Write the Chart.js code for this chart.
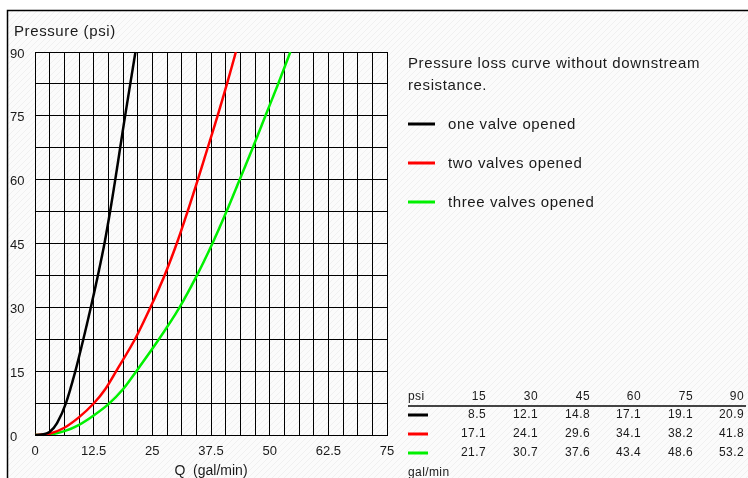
<!DOCTYPE html>
<html>
<head>
<meta charset="utf-8">
<script src="https://cdn.jsdelivr.net/npm/chart.js@4.4.0/dist/chart.umd.min.js"></script>
<style>
  html, body { margin: 0; padding: 0; background: #fff; }
  #chart { display: block; }
</style>
</head>
<body>
<canvas id="chart" width="748" height="478"></canvas>
<script>
// curve points: Q in gal/min, P in psi
const oneValveQ = [0, 1.5, 3.1, 4.7, 6.6, 8.6, 10.3, 11.9, 13.4, 14.8, 16.0, 17.1, 18.15, 19.2, 20.3, 21.4];
const oneValveP = [0, 0.1, 0.7, 2.8, 7.5, 15, 22.5, 30, 37.5, 45, 52.5, 60, 67.5, 75, 82.5, 90];
const twoValvesQ = [0, 3.1, 6.25, 9.4, 12.5, 15.0, 17.3, 21.3, 24.6, 27.6, 30.2, 32.5, 34.7, 36.8, 38.9, 40.9, 42.8];
const twoValvesP = [0, 0.3, 1.7, 4.2, 7.4, 10.8, 15, 22.5, 30, 37.5, 45, 52.5, 60, 67.5, 75, 82.5, 90];
const threeValvesQ = [0, 3.1, 6.25, 9.4, 12.5, 15.6, 18.8, 21.6, 26.4, 30.8, 34.5, 37.8, 40.8, 43.6, 46.4, 49.1, 51.8, 54.4];
const threeValvesP = [0, 0.1, 0.9, 2.4, 4.6, 7.2, 10.8, 15, 22.5, 30, 37.5, 45, 52.5, 60, 67.5, 75, 82.5, 90];

const seriesNames = ['one valve opened', 'two valves opened', 'three valves opened'];
const seriesColors = ['#000000', '#ff0000', '#00f000'];

// table under the legend: flow (gal/min) at each pressure
const tablePsi = [15, 30, 45, 60, 75, 90];
const tableOne = ['8.5', '12.1', '14.8', '17.1', '19.1', '20.9'];
const tableTwo = ['17.1', '24.1', '29.6', '34.1', '38.2', '41.8'];
const tableThree = ['21.7', '30.7', '37.6', '43.4', '48.6', '53.2'];

const chartTitle = ['Pressure loss curve without downstream', 'resistance.'];
const yTitle = 'Pressure (psi)';
const xTitle = 'Q  (gal/min)';

const textColor = '#1a1a1a';
const font = 'Liberation Sans, Arial, sans-serif';

const toPoints = (qs, ps) => qs.map((q, i) => ({ x: q, y: ps[i] }));

const isMultiple = (v, step) => Math.abs(v / step - Math.round(v / step)) < 1e-6;

// frame, hatched background, and the texts on the right
const decorations = {
  id: 'decorations',
  beforeDraw(chart) {
    const ctx = chart.ctx;
    const w = chart.width, h = chart.height;
    ctx.save();
    ctx.fillStyle = '#fff';
    ctx.fillRect(0, 0, w, h);

    const tile = document.createElement('canvas');
    tile.width = 6; tile.height = 6;
    const t = tile.getContext('2d');
    t.fillStyle = '#fbfbfb';
    t.fillRect(0, 0, 6, 6);
    t.strokeStyle = '#f0f0f0';
    t.lineWidth = 1;
    t.beginPath();
    t.moveTo(0, 6); t.lineTo(6, 0);
    t.moveTo(-3, 3); t.lineTo(3, -3);
    t.moveTo(3, 9); t.lineTo(9, 3);
    t.stroke();
    ctx.fillStyle = ctx.createPattern(tile, 'repeat');
    ctx.fillRect(7, 10, w - 7, h - 10);

    ctx.strokeStyle = '#000';
    ctx.lineWidth = 1.5;
    ctx.beginPath();
    ctx.moveTo(7.5, h);
    ctx.lineTo(7.5, 10.5);
    ctx.lineTo(w, 10.5);
    ctx.stroke();
    ctx.restore();
  },
  afterDraw(chart) {
    const ctx = chart.ctx;
    ctx.save();
    ctx.fillStyle = textColor;
    ctx.textBaseline = 'middle';
    ctx.textAlign = 'left';
    ctx.letterSpacing = '0.6px';

    ctx.font = '15px ' + font;
    ctx.fillText(yTitle, 14, 32);

    ctx.fillText(chartTitle[0], 408, 64);
    ctx.fillText(chartTitle[1], 408, 86);

    const legendY = [124, 163, 202];
    seriesNames.forEach((name, i) => {
      ctx.strokeStyle = seriesColors[i];
      ctx.lineWidth = 3;
      ctx.beginPath();
      ctx.moveTo(408, legendY[i]);
      ctx.lineTo(435, legendY[i]);
      ctx.stroke();
      ctx.fillText(name, 448, legendY[i] + 1);
    });

    // values table
    ctx.font = '12px ' + font;
    ctx.letterSpacing = '0.4px';
    const colRight = [486, 538, 590, 641, 693, 744];
    ctx.fillText('psi', 408, 397);
    ctx.textAlign = 'right';
    tablePsi.forEach((p, j) => ctx.fillText(String(p), colRight[j], 397));
    ctx.strokeStyle = '#444';
    ctx.lineWidth = 2;
    ctx.beginPath();
    ctx.moveTo(408, 406);
    ctx.lineTo(746, 406);
    ctx.stroke();

    const rows = [tableOne, tableTwo, tableThree];
    const rowY = [415, 434, 453];
    rows.forEach((row, i) => {
      ctx.strokeStyle = seriesColors[i];
      ctx.lineWidth = 3;
      ctx.beginPath();
      ctx.moveTo(408, rowY[i]);
      ctx.lineTo(428, rowY[i]);
      ctx.stroke();
      row.forEach((v, j) => ctx.fillText(v, colRight[j], rowY[i]));
    });
    ctx.textAlign = 'left';
    ctx.fillText('gal/min', 408, 473);
    ctx.restore();
  }
};

const makeDataset = (label, qs, ps, color) => ({
  label: label,
  data: toPoints(qs, ps),
  borderColor: color,
  borderWidth: 2.5,
  pointRadius: 0,
  fill: false,
  tension: 0.3
});

new Chart(document.getElementById('chart'), {
  type: 'line',
  data: {
    datasets: [
      makeDataset(seriesNames[0], oneValveQ, oneValveP, seriesColors[0]),
      makeDataset(seriesNames[1], twoValvesQ, twoValvesP, seriesColors[1]),
      makeDataset(seriesNames[2], threeValvesQ, threeValvesP, seriesColors[2])
    ]
  },
  options: {
    responsive: false,
    animation: false,
    devicePixelRatio: 1,
    layout: { padding: { left: 10, right: 361, top: 52, bottom: 0 } },
    plugins: {
      legend: { display: false },
      title: { display: false },
      tooltip: { enabled: false }
    },
    scales: {
      x: {
        type: 'linear',
        min: 0,
        max: 75,
        afterFit: (scale) => { scale.height = 43; },
        grid: { color: '#000', lineWidth: 1, drawTicks: false },
        border: { color: '#000', width: 1 },
        ticks: {
          stepSize: 3.125,
          autoSkip: false,
          maxRotation: 0,
          padding: 9,
          color: textColor,
          font: { family: font, size: 13 },
          callback: (v) => isMultiple(v, 12.5) ? String(v) : ''
        },
        title: {
          display: true,
          text: xTitle,
          color: textColor,
          font: { family: font, size: 14, lineHeight: 1 },
          padding: { top: 0, bottom: 0 }
        }
      },
      y: {
        type: 'linear',
        min: 0,
        max: 90,
        afterFit: (scale) => { scale.width = 25; },
        grid: { color: '#000', lineWidth: 1, drawTicks: false },
        border: { color: '#000', width: 1 },
        ticks: {
          stepSize: 7.5,
          autoSkip: false,
          crossAlign: 'far',
          labelOffset: 2,
          color: textColor,
          font: { family: font, size: 13 },
          callback: (v) => isMultiple(v, 15) ? String(v) : ''
        }
      }
    }
  },
  plugins: [decorations]
});
</script>
</body>
</html>
